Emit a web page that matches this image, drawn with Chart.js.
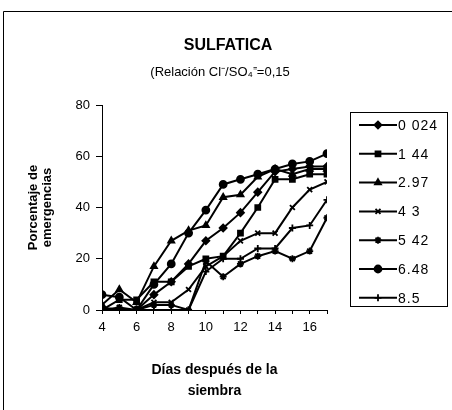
<!DOCTYPE html>
<html>
<head>
<meta charset="utf-8">
<script src="https://cdn.jsdelivr.net/npm/chart.js@4/dist/chart.umd.min.js"></script>
<style>
  html, body { margin: 0; padding: 0; background: #fff; }
  #wrap { width: 452px; height: 410px; }
</style>
</head>
<body>
<div id="wrap"><canvas id="chart" width="452" height="410"></canvas></div>
<script>
// días después de la siembra
const days = [4, 5, 6, 7, 8, 9, 10, 11, 12, 13, 14, 15, 16, 17];

// % de emergencias por concentración
const s0024 = [1, 0, 0, 6, 11, 18, 27, 32, 38, 46, 54, 55, 56, 56];
const s144 = [0, 4, 4, 11, 11, 17, 20, 21, 30, 40, 51, 51, 53, 53];
const s297 = [2, 8, 3, 17, 27, 31, 33, 44, 45, 52, 55, 53, 55, 55];
const s43 = [0, 0, 0, 3, 3, 8, 17, 21, 27, 30, 30, 40, 47, 50];
const s542 = [0, 1, 0, 2, 2, 0, 19, 13, 18, 21, 23, 20, 23, 36];
const s648 = [6, 5, 0, 10, 18, 30, 39, 49, 51, 53, 55, 57, 58, 61];
const s85 = [0, 0, 0, 0, 0, 0, 15, 20, 20, 24, 24, 32, 33, 43];

const seriesLabels = ["0 024", "1 44", "2.97", "4 3", "5 42", "6.48", "8.5"];
const seriesValues = [s0024, s144, s297, s43, s542, s648, s85];
const seriesMarkers = ["rectRot", "rect", "triangle", "crossRot", "star", "circle", "cross"];

const FONT = "'Liberation Sans', Arial, sans-serif";

function toXY(vals) {
    return vals.map((v, i) => ({ x: days[i], y: v }));
}

const datasets = seriesValues.map((vals, i) => ({
    label: seriesLabels[i],
    data: toXY(vals),
    borderColor: "#000",
    backgroundColor: "#000",
    borderWidth: 2,
    pointStyle: seriesMarkers[i],
    pointRadius: 3.5,
    pointBorderWidth: 1.8,
    tension: 0,
}));

// marco, títulos y leyenda
const decorPlugin = {
    id: "decor",
    beforeDraw(chart) {
        const ctx = chart.ctx;
        ctx.save();
        ctx.fillStyle = "#fff";
        ctx.fillRect(0, 0, chart.width, chart.height);
        ctx.restore();
    },
    afterDraw(chart) {
        const ctx = chart.ctx;
        ctx.save();
        ctx.strokeStyle = "#000";
        ctx.lineWidth = 1;
        ctx.beginPath();
        ctx.moveTo(3.5, 410);
        ctx.lineTo(3.5, 11.5);
        ctx.lineTo(452, 11.5);
        ctx.stroke();

        ctx.fillStyle = "#000";
        ctx.textAlign = "center";
        ctx.textBaseline = "middle";
        ctx.font = "bold 16px " + FONT;
        ctx.fillText("SULFATICA", 228, 46);
        ctx.font = "13px " + FONT;
        ctx.fillText("(Relación Cl\u207B/SO\u2084\u207C=0,15", 220, 72);

        // leyenda
        ctx.lineWidth = 1;
        ctx.strokeRect(350.5, 112.5, 97, 194);
        ctx.textAlign = "left";
        ctx.font = "14px " + FONT;
        ctx.letterSpacing = "1px";
        seriesLabels.forEach((lab, i) => {
            const y = 125 + i * 28.8;
            ctx.beginPath();
            ctx.lineWidth = 2;
            ctx.moveTo(359, y);
            ctx.lineTo(397, y);
            ctx.stroke();
            ctx.lineWidth = 1.8;
            Chart.helpers.drawPoint(ctx, {
                pointStyle: seriesMarkers[i],
                rotation: 0,
                radius: 3.5,
                borderWidth: 1.8,
            }, 378, y);
            ctx.fillText(lab, 398, y + 1);
        });
        ctx.restore();
    }
};

new Chart(document.getElementById("chart").getContext("2d"), {
    type: "line",
    data: { datasets: datasets },
    options: {
        responsive: false,
        animation: false,
        layout: { padding: { top: 105, left: 22, right: 125, bottom: 9 } },
        plugins: {
            legend: { display: false },
            tooltip: { enabled: false },
        },
        scales: {
            x: {
                type: "linear",
                min: 4,
                max: 17,
                afterFit: (s) => { s.height = 91; },
                border: { color: "#000", width: 1 },
                grid: { drawOnChartArea: false, color: "#000", tickLength: 4 },
                ticks: {
                    stepSize: 1,
                    autoSkip: false,
                    maxRotation: 0,
                    color: "#000",
                    font: { family: FONT, size: 13 },
                    padding: 6,
                    callback: (v) => (v % 2 === 0 ? String(v) : ""),
                },
                title: {
                    display: true,
                    text: ["Días después de la", "siembra"],
                    color: "#000",
                    font: { family: FONT, size: 14, weight: "bold", lineHeight: 1.45 },
                    padding: 0,
                },
            },
            y: {
                min: 0,
                max: 80,
                afterFit: (s) => { s.width = 80; },
                border: { color: "#000", width: 1 },
                grid: { drawOnChartArea: false, color: "#000", tickLength: 6 },
                ticks: {
                    stepSize: 20,
                    color: "#000",
                    font: { family: FONT, size: 13 },
                    padding: 6,
                },
                title: {
                    display: true,
                    text: ["Porcentaje de", "emergencias"],
                    color: "#000",
                    font: { family: FONT, size: 13, weight: "bold", lineHeight: 1.1 },
                    padding: 4,
                },
            },
        },
    },
    plugins: [decorPlugin],
});
</script>
</body>
</html>
